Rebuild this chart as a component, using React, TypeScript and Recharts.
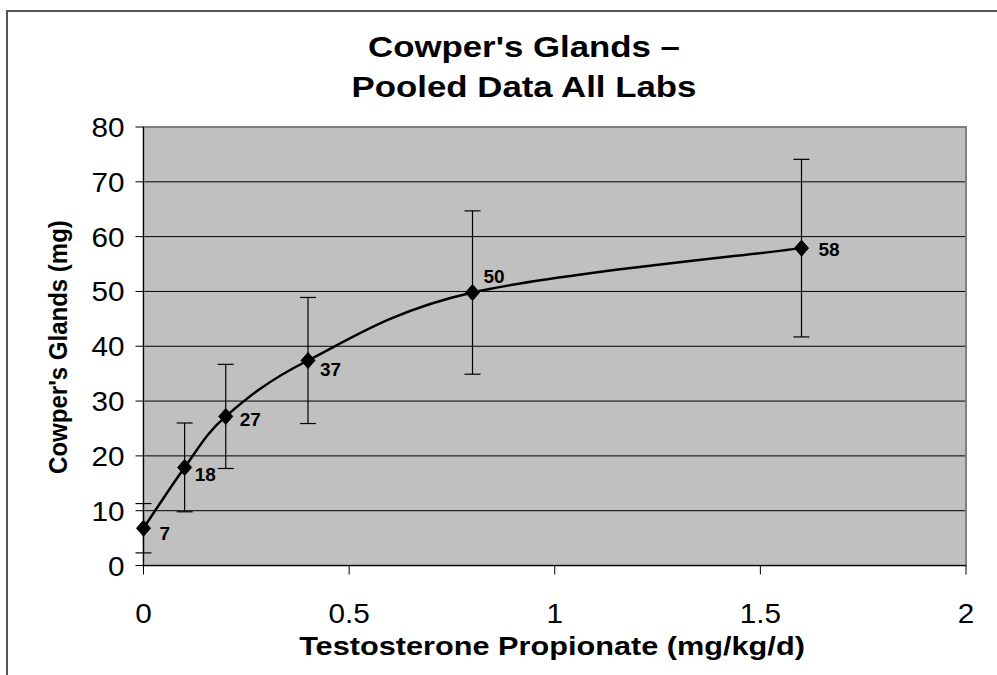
import React from "react";
import {
  ComposedChart,
  Line,
  XAxis,
  YAxis,
  CartesianGrid,
  ErrorBar,
  ReferenceArea,
  LabelList,
} from "recharts";

const doses = [0, 0.1, 0.2, 0.4, 0.8, 1.6];
const means = [6.8, 17.9, 27.2, 37.4, 49.8, 57.9];
const sds = [4.5, 8.1, 9.5, 11.5, 14.9, 16.2];
const xTicks = [0, 0.5, 1, 1.5, 2];
const yTicks = [0, 10, 20, 30, 40, 50, 60, 70, 80];

const titleLines = ["Cowper's Glands \u2013", "Pooled Data All Labs"];
const xTitle = "Testosterone Propionate (mg/kg/d)";
const yTitle = "Cowper's Glands (mg)";

const data = doses.map((d, i) => ({ dose: d, mean: means[i], err: sds[i] }));

// label offsets (dx, dy) relative to point, purely stylistic
const LABEL_OFFSETS: [number, number][] = [
  [16, 5],
  [10, 7],
  [14, 3],
  [12, 9],
  [11, -16],
  [17, 1],
];

const FONT = "'Liberation Sans', Arial, sans-serif";

// Excel-like smoothed line (Catmull-Rom style Bezier segments)
const smoothCurve = (context: any) => {
  let pts: [number, number][] = [];
  return {
    areaStart() {},
    areaEnd() {},
    lineStart() {
      pts = [];
    },
    point(x: number, y: number) {
      pts.push([+x, +y]);
    },
    lineEnd() {
      const n = pts.length;
      if (!n) return;
      context.moveTo(pts[0][0], pts[0][1]);
      for (let i = 0; i < n - 1; i++) {
        const p0 = pts[Math.max(i - 1, 0)];
        const p1 = pts[i];
        const p2 = pts[i + 1];
        const p3 = pts[Math.min(i + 2, n - 1)];
        context.bezierCurveTo(
          p1[0] + (p2[0] - p0[0]) / 6,
          p1[1] + (p2[1] - p0[1]) / 6,
          p2[0] - (p3[0] - p1[0]) / 6,
          p2[1] - (p3[1] - p1[1]) / 6,
          p2[0],
          p2[1]
        );
      }
    },
  };
};

const Diamond = (props: any) => {
  const { cx, cy } = props;
  if (cx == null || cy == null) return null;
  const w = 7;
  const h = 8;
  return (
    <polygon
      points={`${cx},${cy - h} ${cx + w},${cy} ${cx},${cy + h} ${cx - w},${cy}`}
      fill="#000"
      stroke="#000"
    />
  );
};

const PointLabel = (props: any) => {
  const { x, y, value, index } = props;
  const [dx, dy] = LABEL_OFFSETS[index] || [12, 0];
  return (
    <text
      x={x + dx}
      y={y + dy}
      dominantBaseline="central"
      textAnchor="start"
      fontFamily={FONT}
      fontWeight="bold"
      fontSize={19}
      fill="#000"
    >
      {Math.round(value)}
    </text>
  );
};

const XTick = (props: any) => {
  const { x, y, payload } = props;
  return (
    <text
      transform={`translate(${x},${y + 46}) scale(1.08,1)`}
      textAnchor="middle"
      fontFamily={FONT}
      fontSize={27.5}
      fill="#000"
    >
      {String(payload.value)}
    </text>
  );
};

const YTick = (props: any) => {
  const { x, y, payload } = props;
  return (
    <text
      transform={`translate(${x - 9},${y + 10}) scale(1.08,1)`}
      textAnchor="end"
      fontFamily={FONT}
      fontSize={27.5}
      fill="#000"
    >
      {String(payload.value)}
    </text>
  );
};

export default function App() {
  return (
    <div
      style={{
        position: "absolute",
        left: 0,
        top: 0,
        width: 997,
        height: 675,
        background: "#fff",
        overflow: "hidden",
        fontFamily: FONT,
      }}
    >
      <div
        style={{
          position: "absolute",
          left: 6,
          top: 10,
          width: 1100,
          height: 800,
          border: "2px solid #555",
          boxSizing: "border-box",
        }}
      />
      <div
        style={{
          position: "absolute",
          left: 524 - 400,
          width: 800,
          top: 27,
          textAlign: "center",
          fontWeight: "bold",
          fontSize: 30,
          lineHeight: "40px",
          color: "#000",
          transform: "scaleX(1.16)",
          transformOrigin: "400px 0",
        }}
      >
        {titleLines.map((t) => (
          <div key={t}>{t}</div>
        ))}
      </div>
      <div
        style={{
          position: "absolute",
          left: 552 - 400,
          width: 800,
          top: 630,
          textAlign: "center",
          fontWeight: "bold",
          fontSize: 26,
          lineHeight: "32px",
          color: "#000",
          transform: "scaleX(1.18)",
          transformOrigin: "400px 0",
        }}
      >
        {xTitle}
      </div>
      <div
        style={{
          position: "absolute",
          left: 58 - 200,
          top: 347 - 15,
          width: 400,
          height: 30,
          textAlign: "center",
          fontWeight: "bold",
          fontSize: 24,
          lineHeight: "30px",
          color: "#000",
          transform: "rotate(-90deg) scaleY(1.1)",
        }}
      >
        {yTitle}
      </div>
      <div style={{ position: "absolute", left: 0, top: 0 }}>
        <ComposedChart
          width={997}
          height={675}
          data={data}
          margin={{ top: 127, right: 31, bottom: 50, left: 63 }}
        >
          <CartesianGrid
            vertical={false}
            stroke="#000"
            strokeWidth={1}
            fill="#C0C0C0"
            fillOpacity={1}
          />
          <ReferenceArea
            x1={0}
            x2={2}
            y1={0}
            y2={80}
            fill="none"
            stroke="#808080"
            strokeWidth={2}
            ifOverflow="visible"
          />
          <XAxis
            dataKey="dose"
            type="number"
            domain={[0, 2]}
            ticks={xTicks}
            height={59.5}
            stroke="#000"
            tickSize={9}
            tick={<XTick />}
          />
          <YAxis
            type="number"
            domain={[0, 80]}
            ticks={yTicks}
            width={80.5}
            stroke="#000"
            tickSize={8}
            tick={<YTick />}
          />
          <Line
            dataKey="mean"
            type={smoothCurve as any}
            stroke="#000"
            strokeWidth={2.5}
            dot={<Diamond />}
            activeDot={false}
            isAnimationActive={false}
          >
            <ErrorBar
              dataKey="err"
              direction="y"
              width={8}
              stroke="#000"
              strokeWidth={1.2}
            />
            <LabelList dataKey="mean" content={<PointLabel />} />
          </Line>
        </ComposedChart>
      </div>
    </div>
  );
}
